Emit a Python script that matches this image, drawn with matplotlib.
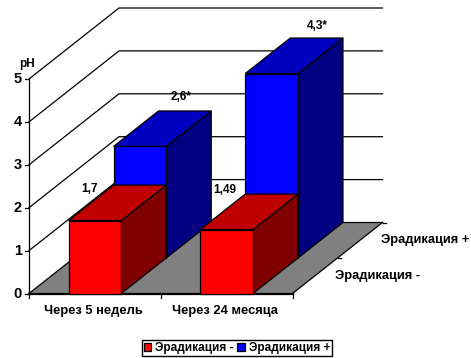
import matplotlib
matplotlib.use("Agg")
import matplotlib.pyplot as plt
from matplotlib.patches import Patch

plt.rcParams["font.family"] = ["Liberation Sans", "DejaVu Sans"]
plt.rcParams["font.weight"] = "bold"

categories = ["Через 5 недель", "Через 24 месяца"]
series_names = ["Эрадикация -", "Эрадикация +"]
eradication_minus = [1.7, 1.49]
eradication_plus = [2.6, 4.3]
labels_minus = ["1,7", "1,49"]
labels_plus = ["2,6*", "4,3*"]
y_ticks = [0, 1, 2, 3, 4, 5]

W, H = 471, 358
LEFT, RIGHT, BOTTOM, TOP = 29.0, 292.5, 293.5, 79.0
PX_X = (RIGHT - LEFT) / 2  # pixels per category
PX_Y = (BOTTOM - TOP) / 5  # pixels per pH unit
DX = 90 / PX_X  # depth shift, category units
DY = 71 / PX_Y  # depth shift, value units
BAR_W = 0.4

REDS = ("#ff0000", "#c00000", "#800000")
BLUES = ("#0000ff", "#0000c0", "#000080")
FLOOR = "#808080"
LW = 0.9
FS = 9.3


def proj(x, y, d=0.0):
    # oblique projection: d runs 0 (front) to 1 (back wall)
    return x + d * DX, y + d * DY


def face(ax, pts, color, z):
    ax.fill(*zip(*pts), facecolor=color, edgecolor="black", lw=LW,
            zorder=z, clip_on=False, joinstyle="miter")


def draw_bar(ax, x, value, d0, d1, colors, z):
    x0, x1 = x, x + BAR_W
    face(ax, [proj(x0, 0, d0), proj(x1, 0, d0), proj(x1, value, d0), proj(x0, value, d0)], colors[0], z + 2)
    face(ax, [proj(x0, value, d0), proj(x1, value, d0), proj(x1, value, d1), proj(x0, value, d1)], colors[1], z + 1)
    face(ax, [proj(x1, 0, d0), proj(x1, 0, d1), proj(x1, value, d1), proj(x1, value, d0)], colors[2], z)


def bar_label(ax, xy, text, dx, dy):
    # dx, dy: pixel offset from the middle of the bar top
    ax.annotate(text, xy=xy, xytext=(dx * 0.72, dy * 0.72), textcoords="offset points",
                ha="center", va="center", fontsize=8.5, zorder=40, annotation_clip=False)


fig = plt.figure(figsize=(W / 100, H / 100), dpi=100)
ax = fig.add_axes([LEFT / W, 1 - BOTTOM / H, (RIGHT - LEFT) / W, (BOTTOM - TOP) / H])
ax.set_xlim(0, len(categories))
ax.set_ylim(0, y_ticks[-1])
ax.axis("off")

# floor and walls
ax.fill(*zip(proj(0, 0), proj(2, 0), proj(2, 0, 1), proj(0, 0, 1)), facecolor=FLOOR, zorder=1, clip_on=False)
xs, ys = zip(proj(2, 0), proj(2, 0, 1))
ax.plot(xs, ys, c="black", lw=LW, zorder=2, clip_on=False)
for v in y_ticks:
    xs, ys = zip(proj(0, v), proj(0, v, 1), proj(2, v, 1))
    ax.plot(xs, ys, c="black", lw=LW, zorder=2, clip_on=False)
    ax.plot([-0.03, 0], [v, v], c="black", lw=LW, zorder=2, clip_on=False)
    ax.text(-0.055, v, str(v), ha="right", va="center", fontsize=10.5, clip_on=False)
ax.plot([0, 0], [0, y_ticks[-1]], c="black", lw=LW, zorder=2, clip_on=False)
ax.plot([0, 2], [0, 0], c="black", lw=1.6, zorder=2.5, clip_on=False)
ax.text(-0.019, 5.36, "pH", ha="center", va="center", fontsize=8.5)

# x ticks, depth ticks
for x in range(len(categories) + 1):
    ax.plot([x, x], [0, -0.1], c="black", lw=LW, clip_on=False)
for d in (0.5, 1):
    xs, ys = zip(proj(2, 0, d), proj(2.03, 0, d))
    ax.plot(xs, ys, c="black", lw=LW, clip_on=False, zorder=2)

# back row first, so the front row overlaps it
for i, v in enumerate(eradication_plus):
    draw_bar(ax, i + 0.3, v, 0.5, 1, BLUES, 10)
for i, v in enumerate(eradication_minus):
    draw_bar(ax, i + 0.3, v, 0, 0.5, REDS, 20)

minus_offsets = [(-28, 14), (-24, 22)]
plus_offsets = [(19, 32), (23, 30)]
for i, (v, s) in enumerate(zip(eradication_minus, labels_minus)):
    bar_label(ax, proj(i + 0.3 + BAR_W / 2, v, 0.25), s, *minus_offsets[i])
for i, (v, s) in enumerate(zip(eradication_plus, labels_plus)):
    bar_label(ax, proj(i + 0.3 + BAR_W / 2, v, 0.75), s, *plus_offsets[i])

for i, name in enumerate(categories):
    ax.text(i + 0.49, -0.4, name, ha="center", va="center", fontsize=FS, clip_on=False)

# series names beside the floor
ax.text((335 - LEFT) / PX_X, (BOTTOM - 276) / PX_Y, series_names[0], ha="left", va="center",
        fontsize=FS, clip_on=False)
ax.text((381 - LEFT) / PX_X, (BOTTOM - 240) / PX_Y, series_names[1], ha="left", va="center",
        fontsize=FS, clip_on=False)

handles = [Patch(facecolor=REDS[0], edgecolor="black", lw=LW),
           Patch(facecolor=BLUES[0], edgecolor="black", lw=LW)]
fig.legend(handles, series_names, loc="center", bbox_to_anchor=(237 / W, 1 - 348 / H),
           ncol=2, fontsize=8.5, fancybox=False, edgecolor="black", framealpha=1,
           handlelength=0.62, handleheight=0.62, handletextpad=0.34, columnspacing=0.3,
           borderpad=0.2, borderaxespad=0)

fig.savefig("out.png", dpi=100)
